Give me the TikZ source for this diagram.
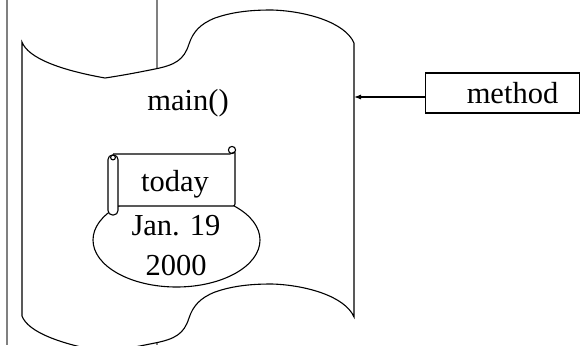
\documentclass[tikz,border=0pt]{standalone}
\usepackage{fontspec}
\newfontfamily\labelfont{Liberation Serif}
\usetikzlibrary{arrows.meta,shapes.geometric}
\tikzset{
  outline/.style={draw=black, line width=1.1pt},
  guide/.style={draw=black!50, line width=1.1pt},
  big/.style={font=\labelfont\fontsize{30.5}{40}\selectfont},
}
\begin{document}
\begin{tikzpicture}[x=1pt,y=-1pt]
  \clip (0,0) rectangle (580,345);
  \fill[white] (0,0) rectangle (580,345);

  % background rules
  \draw[guide] (7,0) -- (7,345);
  \draw[guide] (157,0) -- (157,345);

  % the method (wavy sheet)
  \filldraw[outline, fill=white]
    (22,42) .. controls (28,58) and (60,70) .. (105,78)
    .. controls (125,75) and (140,72) .. (155,69)
    .. controls (175,65) and (184,60) .. (189,44)
    .. controls (193,32) and (200,24) .. (215,18)
    .. controls (235,11) and (255,10) .. (272,10)
    .. controls (305,11) and (345,22) .. (354,43)
    -- (354,317)
    .. controls (345,296) and (305,285) .. (272,284)
    .. controls (255,284) and (235,285) .. (215,292)
    .. controls (200,298) and (193,306) .. (189,318)
    .. controls (184,334) and (175,339) .. (155,343)
    .. controls (140,346) and (125,349) .. (105,352)
    .. controls (60,344) and (28,332) .. (22,316)
    -- cycle;
  \coordinate (sheetE) at (354,97);

  \node[big] (main) at (188,103) {main()};

  % object: ellipse with its value
  \node[outline, ellipse, minimum width=167pt, minimum height=94pt, inner sep=0pt] (obj) at (176.5,240) {};
  \node[big, align=center] (val) at (176,246) {Jan. 19\\2000};

  % the name scroll
  \filldraw[outline, fill=white, rounded corners=2pt]
    (113,154) -- (232,154) -- (235,151) -- (235,206) -- (116,206);
  \draw[outline] (232,150) circle (3.6pt);
  \filldraw[outline, fill=white, rounded corners=4.5pt]
    (108,155) rectangle (118,215);
  \draw[outline] (113,157.5) circle (2.4pt);
  \node[big] (today) at (175,184) {today};

  % label box and pointer
  \node[outline, big, rectangle, minimum width=154pt, minimum height=40pt, inner sep=0pt] (method) at (502.5,93) {\hspace{20pt}method};
  \draw[outline, -{Latex[length=7pt,width=5pt]}] (method.west |- sheetE) -- (sheetE);
\end{tikzpicture}
\end{document}
